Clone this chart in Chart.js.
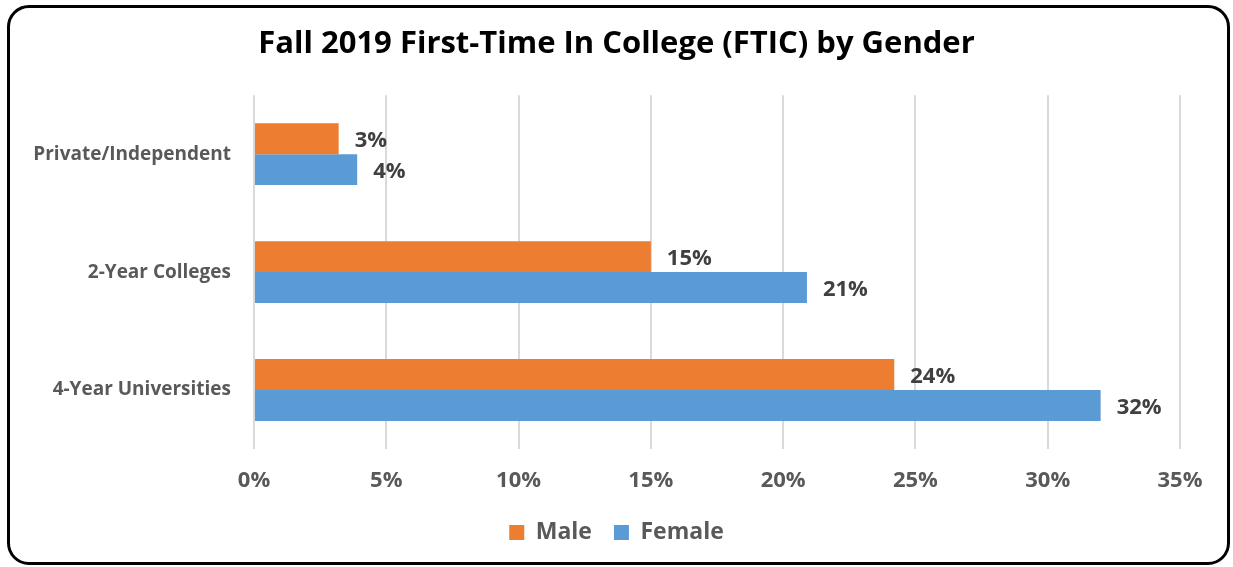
<!DOCTYPE html>
<html>
<head>
<meta charset="utf-8">
<script src="https://cdn.jsdelivr.net/npm/chart.js@4"></script>
<style>
  body { margin: 0; background: #fff; }
  #wrap { position: relative; width: 1233px; height: 567px; }
  #frame {
    position: absolute; left: 7px; top: 5px; width: 1217px; height: 554px;
    border: 3px solid #000; border-radius: 22px; pointer-events: none;
  }
</style>
</head>
<body>
<div id="wrap">
  <canvas id="chart" width="1233" height="567"></canvas>
  <div id="frame"></div>
</div>
<script>
    // chart data
    var categories = ['Private/Independent', '2-Year Colleges', '4-Year Universities'];
    var maleValues = [3.2, 15.0, 24.2];
    var femaleValues = [3.9, 20.9, 32.0];
    var xTicks = [0, 5, 10, 15, 20, 25, 30, 35];

    var fontFamily = '"Open Sans", sans-serif';

    // draws the % label to the right of each bar
    var barLabels = {
        id: 'barLabels',
        afterDatasetsDraw: function (chart) {
            var ctx = chart.ctx;
            ctx.save();
            ctx.font = 'bold 22px ' + fontFamily;
            ctx.fillStyle = '#404040';
            ctx.textAlign = 'left';
            ctx.textBaseline = 'middle';
            chart.data.datasets.forEach(function (ds, i) {
                chart.getDatasetMeta(i).data.forEach(function (bar, j) {
                    ctx.fillText(Math.round(ds.data[j]) + '%', bar.x + 16, bar.y + 2);
                });
            });
            ctx.restore();
        }
    };

    new Chart(document.getElementById('chart').getContext('2d'), {
        type: 'bar',
        data: {
            labels: categories,
            datasets: [
                { label: 'Male', data: maleValues, backgroundColor: '#ED7D31' },
                { label: 'Female', data: femaleValues, backgroundColor: '#5B9BD5' }
            ]
        },
        options: {
            indexAxis: 'y',
            responsive: false,
            animation: false,
            layout: { padding: { left: 20, right: 20, top: 0, bottom: 13 } },
            datasets: {
                bar: { categoryPercentage: 0.525, barPercentage: 1.0 }
            },
            scales: {
                x: {
                    min: 0,
                    max: 35,
                    afterBuildTicks: function (axis) {
                        axis.ticks = xTicks.map(function (v) { return { value: v }; });
                    },
                    afterFit: function (axis) { axis.height = 50; },
                    grid: { color: '#d9d9d9', lineWidth: 2, drawTicks: false },
                    border: { display: false },
                    ticks: {
                        padding: 19,
                        color: '#595959',
                        font: { family: fontFamily, size: 22, weight: 'bold' },
                        callback: function (v) { return v + '%'; }
                    }
                },
                y: {
                    grid: { display: false },
                    border: { display: false },
                    afterFit: function (axis) { axis.width = 234; },
                    ticks: {
                        padding: 15,
                        color: '#595959',
                        font: { family: fontFamily, size: 19, weight: 'bold' }
                    }
                },
                // empty spacer on the right so the title stays centred on the page
                spacer: {
                    type: 'linear',
                    position: 'right',
                    grid: { display: false },
                    border: { display: false },
                    ticks: { display: false },
                    afterFit: function (axis) { axis.width = 33; }
                }
            },
            plugins: {
                title: {
                    display: true,
                    text: 'Fall 2019 First-Time In College (FTIC) by Gender',
                    color: '#000',
                    font: { family: fontFamily, size: 31, weight: 'bold' },
                    padding: { top: 26, bottom: 32 }
                },
                legend: {
                    position: 'bottom',
                    labels: {
                        color: '#595959',
                        boxWidth: 15,
                        boxHeight: 15,
                        padding: 22,
                        font: { family: fontFamily, size: 23, weight: 'bold' }
                    }
                },
                tooltip: { enabled: false }
            }
        },
        plugins: [barLabels]
    });
</script>
</body>
</html>
